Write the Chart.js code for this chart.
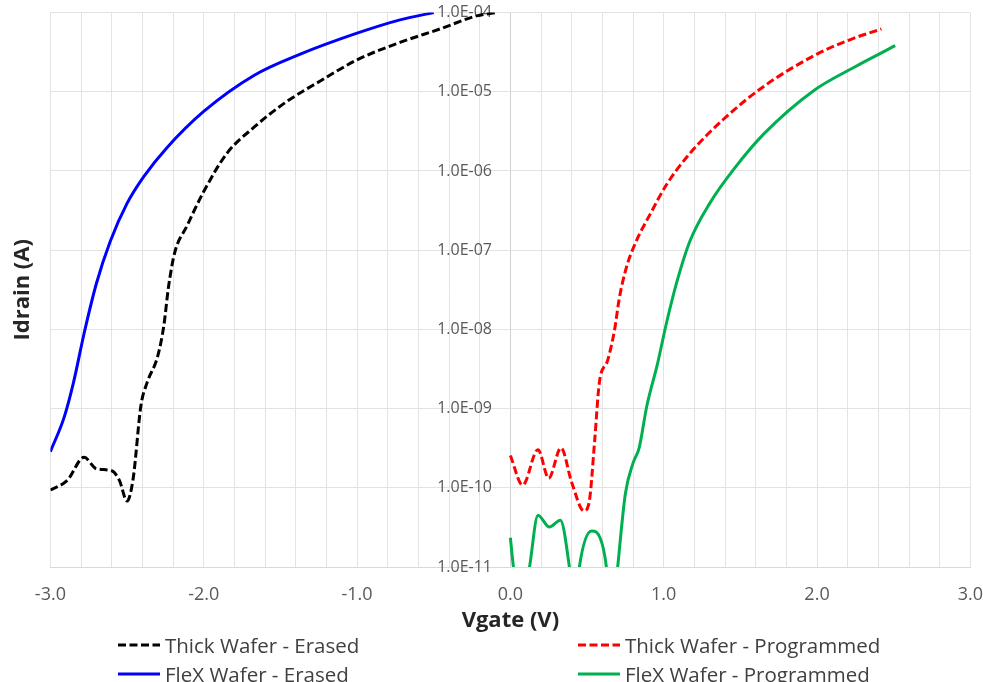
<!DOCTYPE html>
<html>
<head>
<meta charset="utf-8">
<script src="https://cdn.jsdelivr.net/npm/chart.js@4.4.0/dist/chart.umd.min.js"></script>
<style>
  html, body { margin: 0; padding: 0; background: #fff; }
  #wrap { position: relative; width: 983px; height: 682px; }
  #legend {
    position: absolute; left: 118px; top: 630px;
    display: grid; grid-template-columns: 460px auto; grid-auto-rows: 29px;
    font-family: 'Open Sans', sans-serif; font-size: 20.5px; color: #404040;
  }
  .item { display: flex; align-items: center; white-space: nowrap; }
  .item svg { margin-right: 5px; }
</style>
</head>
<body>
<div id="wrap">
  <canvas id="ivChart" width="983" height="682"></canvas>
  <div id="legend"></div>
</div>
<script>
// Vgate (V) and Idrain (A)
const thickErasedV = [-3.0, -2.89, -2.78, -2.70, -2.60, -2.55, -2.50, -2.46, -2.41, -2.37, -2.30, -2.26, -2.23, -2.19, -2.11, -2.0, -1.85, -1.67, -1.46, -1.24, -1.0, -0.72, -0.46, -0.22, -0.09];
const thickErasedI = [9.4e-11, 1.24e-10, 2.43e-10, 1.74e-10, 1.64e-10, 1.24e-10, 6.8e-11, 1.32e-10, 1.08e-9, 2.11e-9, 4.6e-9, 1.12e-8, 3.4e-8, 9.2e-8, 2.01e-7, 5.5e-7, 1.66e-6, 3.6e-6, 7.5e-6, 1.37e-5, 2.53e-5, 4.2e-5, 6.2e-5, 9.1e-5, 1.0e-4];

const flexErasedV = [-3.0, -2.91, -2.85, -2.78, -2.70, -2.61, -2.50, -2.39, -2.24, -2.0, -1.67, -1.37, -1.0, -0.72, -0.5];
const flexErasedI = [2.86e-10, 7.8e-10, 2.11e-9, 8.95e-9, 3.8e-8, 1.29e-7, 3.9e-7, 8.55e-7, 1.97e-6, 5.65e-6, 1.62e-5, 2.99e-5, 5.5e-5, 8.1e-5, 1.0e-4];

const thickProgV = [0.0, 0.08, 0.18, 0.25, 0.33, 0.40, 0.48, 0.515, 0.55, 0.58, 0.635, 0.68, 0.71, 0.755, 0.82, 0.91, 1.02, 1.17, 1.39, 1.65, 2.0, 2.23, 2.42];
const thickProgI = [2.56e-10, 1.08e-10, 3.03e-10, 1.32e-10, 3.2e-10, 1.17e-10, 5.1e-11, 6.8e-11, 4.0e-10, 2.11e-9, 4.1e-9, 1.0e-8, 2.44e-8, 5.9e-8, 1.29e-7, 2.81e-7, 6.8e-7, 1.66e-6, 4.5e-6, 1.16e-5, 2.99e-5, 4.67e-5, 6.2e-5];

const flexProgV = [0.0, 0.02, 0.07, 0.125, 0.18, 0.254, 0.326, 0.385, 0.42, 0.45, 0.53, 0.585, 0.626, 0.66, 0.70, 0.75, 0.80, 0.84, 0.89, 0.96, 1.02, 1.09, 1.17, 1.30, 1.46, 1.65, 1.98, 2.24, 2.51];
const flexProgI = [2.34e-11, 1.0e-11, 2.5e-12, 1.0e-11, 4.5e-11, 3.2e-11, 3.9e-11, 1.0e-11, 2.5e-12, 1.0e-11, 2.85e-11, 2.34e-11, 1.0e-11, 1.6e-12, 1.0e-11, 8.4e-11, 2.05e-10, 3.2e-10, 1.08e-9, 3.7e-9, 1.25e-8, 4.25e-8, 1.29e-7, 3.9e-7, 1.07e-6, 2.9e-6, 1.04e-5, 2.03e-5, 3.82e-5];

const yTicks = [1e-11, 1e-10, 1e-9, 1e-8, 1e-7, 1e-6, 1e-5, 1e-4];
const yTickLabels = ['1.0E-11', '1.0E-10', '1.0E-09', '1.0E-08', '1.0E-07', '1.0E-06', '1.0E-05', '1.0E-04'];

const series = [
    { label: 'Thick Wafer - Erased', v: thickErasedV, i: thickErasedI, color: '#000000', dash: [8, 3.5] },
    { label: 'Thick Wafer - Programmed', v: thickProgV, i: thickProgI, color: '#ff0000', dash: [8, 3.5] },
    { label: 'FleX Wafer - Erased', v: flexErasedV, i: flexErasedI, color: '#0000ff', dash: [] },
    { label: 'FleX Wafer - Programmed', v: flexProgV, i: flexProgI, color: '#00b050', dash: [] }
];

const isWhole = v => Math.abs(v - Math.round(v)) < 1e-9;
const tickFont = { family: "'Open Sans', sans-serif" };

const chart = new Chart(document.getElementById('ivChart'), {
    type: 'line',
    data: {
        datasets: series.map(s => ({
            label: s.label,
            data: s.v.map((v, k) => ({ x: v, y: s.i[k] })),
            borderColor: s.color,
            backgroundColor: s.color,
            borderWidth: 3,
            borderDash: s.dash,
            pointRadius: 0,
            cubicInterpolationMode: 'monotone',
            fill: false,
            clip: 0
        }))
    },
    options: {
        responsive: false,
        animation: false,
        layout: { padding: { left: 6, right: 0, top: 2, bottom: 48 } },
        plugins: {
            legend: { display: false },
            tooltip: { enabled: false }
        },
        scales: {
            x: {
                type: 'linear',
                min: -3,
                max: 3,
                ticks: {
                    stepSize: 0.2,
                    autoSkip: false,
                    maxRotation: 0,
                    padding: 0,
                    color: '#595959',
                    font: { ...tickFont, size: 18 },
                    callback: v => isWhole(v) ? v.toFixed(1) : ''
                },
                grid: {
                    tickLength: 17,
                    tickColor: 'rgba(0,0,0,0)',
                    color: ctx => (ctx.tick && ctx.tick.value === 0) ? '#cfcfcf' : '#e3e3e3'
                },
                border: { color: '#d9d9d9' },
                title: {
                    display: true,
                    text: 'Vgate (V)',
                    color: '#262626',
                    font: { ...tickFont, size: 22, weight: 'bold' },
                    padding: { top: 2, bottom: 0 }
                }
            },
            y: {
                type: 'logarithmic',
                position: { x: -0.12 },
                min: 1e-11,
                max: 1e-4,
                afterBuildTicks: scale => {
                    scale.ticks = yTicks.map(v => ({ value: v }));
                },
                ticks: {
                    color: '#595959',
                    font: { ...tickFont, size: 16 },
                    callback: (v, idx) => yTickLabels[idx]
                },
                grid: { drawTicks: false, color: '#e3e3e3' },
                border: { display: false }
            },
            yTitle: {
                type: 'linear',
                position: 'left',
                min: 0,
                max: 1,
                ticks: { display: false },
                grid: { display: false, drawTicks: false },
                border: { display: false },
                title: {
                    display: true,
                    text: 'Idrain (A)',
                    color: '#262626',
                    font: { ...tickFont, size: 22, weight: 'bold' },
                    padding: { top: 4, bottom: 14 }
                }
            }
        }
    }
});

// legend as a 2 x 2 grid under the axis title
const legendEl = document.getElementById('legend');
chart.data.datasets.forEach(ds => {
    const item = document.createElement('div');
    item.className = 'item';
    const dash = ds.borderDash.length ? ` stroke-dasharray="${ds.borderDash.join(' ')}"` : '';
    item.innerHTML = `<svg width="42" height="6"><line x1="0" y1="3" x2="42" y2="3" stroke="${ds.borderColor}" stroke-width="3"${dash}/></svg><span>${ds.label}</span>`;
    legendEl.appendChild(item);
});
</script>
</body>
</html>
